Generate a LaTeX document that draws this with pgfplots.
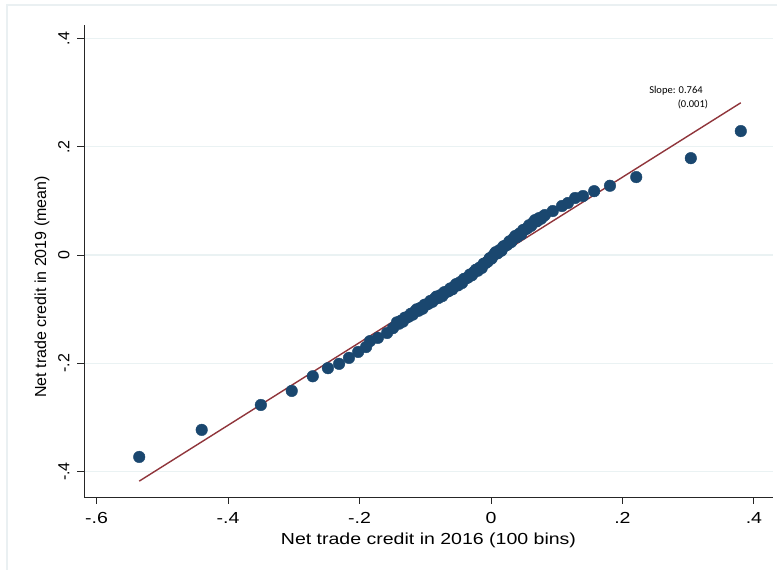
\documentclass[border=0pt]{standalone}
\usepackage{fontspec}
\setmainfont{Liberation Sans}
\newfontfamily\widefont{Liberation Sans}[FakeStretch=1.22]
\newfontfamily\notefont{Carlito}
\usepackage{pgfplots}
\pgfplotsset{compat=1.18}

\definecolor{statanavy}{RGB}{26,71,111}
\definecolor{statamaroon}{RGB}{144,53,59}
\definecolor{gridcol}{RGB}{234,242,243}
\definecolor{framecol}{RGB}{234,240,242}

\pgfplotstableread{
x y
-0.535 -0.373
-0.440 -0.323
-0.350 -0.277
-0.303 -0.251
-0.271 -0.224
-0.248 -0.209
-0.231 -0.201
-0.216 -0.190
-0.202 -0.179
-0.190 -0.170
-0.184 -0.159
-0.172 -0.153
-0.158 -0.144
-0.149 -0.135
-0.143 -0.1243
-0.140 -0.1269
-0.137 -0.1215
-0.134 -0.1231
-0.131 -0.1157
-0.128 -0.1153
-0.125 -0.1139
-0.122 -0.1085
-0.119 -0.1101
-0.116 -0.1047
-0.113 -0.1003
-0.110 -0.1029
-0.107 -0.0975
-0.104 -0.0992
-0.101 -0.0918
-0.098 -0.0914
-0.095 -0.0900
-0.092 -0.0847
-0.089 -0.0864
-0.086 -0.0811
-0.083 -0.0768
-0.080 -0.0795
-0.077 -0.0742
-0.074 -0.0759
-0.071 -0.0686
-0.068 -0.0684
-0.065 -0.0671
-0.062 -0.0618
-0.059 -0.0635
-0.056 -0.0582
-0.053 -0.0537
-0.050 -0.0560
-0.047 -0.0503
-0.044 -0.0517
-0.041 -0.0440
-0.038 -0.0433
-0.035 -0.0416
-0.032 -0.0360
-0.029 -0.0374
-0.026 -0.0317
-0.023 -0.0272
-0.020 -0.0290
-0.017 -0.0230
-0.014 -0.0239
-0.011 -0.0159
-0.008 -0.0147
-0.005 -0.0123
-0.002 -0.0059
0.001 -0.0065
0.004 -0.0001
0.007 0.0051
0.010 0.0031
0.013 0.0091
0.016 0.0081
0.019 0.0161
0.022 0.0171
0.025 0.0191
0.028 0.0252
0.031 0.0242
0.034 0.0302
0.037 0.0352
0.040 0.0333
0.043 0.0393
0.046 0.0382
0.049 0.0463
0.052 0.0473
0.055 0.0491
0.058 0.0550
0.061 0.0538
0.064 0.0596
0.067 0.0645
0.070 0.0623
0.073 0.0681
0.076 0.0670
0.079 0.0710
0.082 0.0739
0.094 0.0813
0.108 0.0906
0.117 0.0961
0.128 0.1054
0.140 0.1090
0.157 0.1180
0.181 0.1280
0.221 0.1440
0.304 0.1790
0.380 0.2290
}\bins

\begin{document}
\begin{tikzpicture}[x=1pt,y=1pt]
\useasboundingbox (0,0) rectangle (777,570);
\fill[white] (0,0) rectangle (777,570);
\draw[framecol, line width=1.5pt] (7,-20) -- (7,565) -- (800,565);
\begin{axis}[
  at={(84pt,73pt)}, anchor=south west,
  scale only axis,
  width=689pt, height=472pt,
  xmin=-0.619, xmax=0.429,
  ymin=-0.447, ymax=0.425,
  axis x line*=bottom, axis y line*=left,
  axis line style={black!85, line width=0.9pt, -},
  xtick={-0.6,-0.4,-0.2,0,0.2,0.4},
  xticklabels={-.6,-.4,-.2,0,.2,.4},
  ytick={-0.4,-0.2,0,0.2,0.4},
  yticklabels={-.4,-.2,0,.2,.4},
  x tick label style={font=\widefont\fontsize{16}{19}\selectfont},
  y tick label style={rotate=90, anchor=south, font=\fontsize{16}{19}\selectfont},
  xticklabel shift=5pt,
  yticklabel shift=4pt,
  tick align=outside,
  major tick length=7pt,
  tick style={black!85, line width=0.9pt},
  ymajorgrids,
  grid style={gridcol, line width=1.3pt},
  xlabel={Net trade credit in 2016 (100 bins)},
  ylabel={Net trade credit in 2019 (mean)},
  xlabel style={at={(axis description cs:0.5,-0.091)}, anchor=center,
    font=\widefont\fontsize{16}{19}\selectfont},
  ylabel style={at={(axis description cs:-0.061,0.445)}, anchor=center,
    font=\fontsize{16}{19}\selectfont},
  clip=false,
]
\addplot[only marks, mark=*, mark size=5.8pt, mark options={fill=statanavy, draw=statanavy}]
  table[x=x, y=y] {\bins};
\addplot[statamaroon, line width=1.4pt] coordinates {(-0.535,-0.4177) (0.380,0.2813)};
\node[font=\notefont\fontsize{10.5}{12}\selectfont] at (axis cs:0.2814,0.303) {Slope: 0.764};
\node[font=\notefont\fontsize{10.5}{12}\selectfont] at (axis cs:0.3072,0.279) {(0.001)};
\end{axis}
\end{tikzpicture}
\end{document}
